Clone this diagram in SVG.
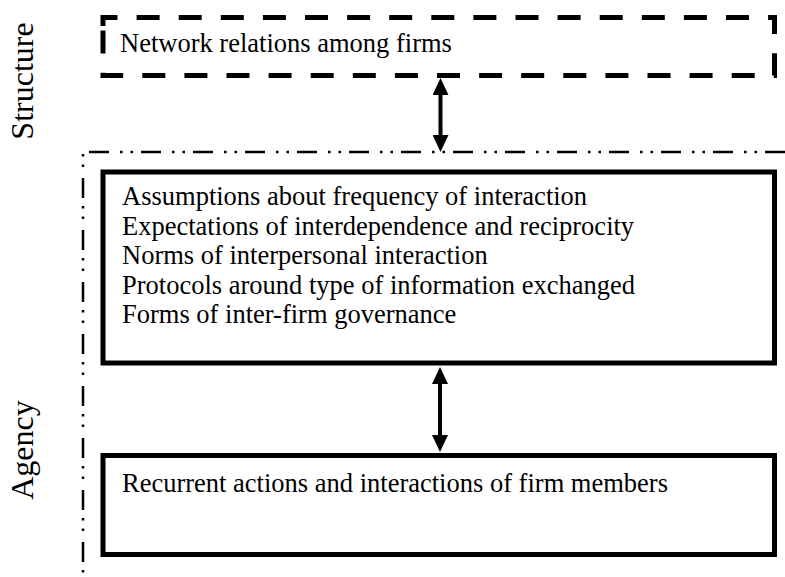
<svg xmlns="http://www.w3.org/2000/svg" width="785" height="577" viewBox="0 0 785 577">
<style>
  .bg { fill: #ffffff; }
  .txt { font-family: "Liberation Serif", "Times New Roman", serif; font-size: 26.5px; fill: #000000; }
  .lbl { font-family: "Liberation Serif", "Times New Roman", serif; font-size: 32px; fill: #000000; text-anchor: middle; }
  .box { fill: none; stroke: #000000; stroke-width: 5; }
  .dashed { stroke-dasharray: 23 19.1; }
  .dashdot { fill: none; stroke: #000000; stroke-width: 2.5; stroke-dasharray: 20 8 2.5 8 2.5 11; }
  .arrow { stroke: #000000; stroke-width: 4; fill: none; marker-start: url(#head); marker-end: url(#head); }
</style>
<defs>
  <marker id="head" markerUnits="userSpaceOnUse" markerWidth="17" markerHeight="16" refX="2" refY="8" orient="auto-start-reverse" viewBox="0 0 17 16">
    <path d="M0,0 L17,8 L0,16 Z" fill="#000000"/>
  </marker>
</defs>
<rect class="bg" x="0" y="0" width="785" height="577"/>

<g id="region-boundary">
  <path class="dashdot" d="M785,152 H83 V577"/>
</g>

<g id="label-structure">
  <text class="lbl" transform="translate(33,81) rotate(-90)">Structure</text>
</g>
<g id="label-agency">
  <text class="lbl" transform="translate(33,450) rotate(-90)">Agency</text>
</g>

<g id="node-network">
  <path class="box dashed" d="M103,26 V17.5 H774.5 V75.5 H103 Z"/>
  <text class="txt" x="120" y="52">Network relations among firms</text>
</g>

<g id="node-institutions">
  <rect class="box" x="103" y="172" width="671.5" height="191"/>
  <text class="txt" x="122" y="205">Assumptions about frequency of interaction</text>
  <text class="txt" x="122" y="234.5">Expectations of interdependence and reciprocity</text>
  <text class="txt" x="122" y="264">Norms of interpersonal interaction</text>
  <text class="txt" x="122" y="293.5">Protocols around type of information exchanged</text>
  <text class="txt" x="122" y="323">Forms of inter-firm governance</text>
</g>

<g id="node-actions">
  <rect class="box" x="103" y="455.5" width="671.5" height="99"/>
  <text class="txt" x="122" y="492">Recurrent actions and interactions of firm members</text>
</g>

<g id="connectors">
  <line class="arrow" x1="440.5" y1="93" x2="440.5" y2="137"/>
  <line class="arrow" x1="440" y1="382" x2="440" y2="437"/>
</g>
</svg>
